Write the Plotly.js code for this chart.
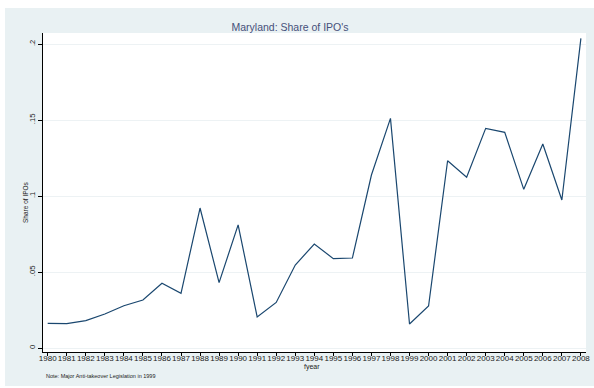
<!DOCTYPE html>
<html>
<head>
<meta charset="utf-8">
<script src="https://cdn.plot.ly/plotly-3.0.1.min.js"></script>
<style>
  html, body { margin: 0; padding: 0; background: #ffffff; }
  #chart { width: 594px; height: 388px; }
</style>
</head>
<body>
<div id="chart"></div>
<script>
// Fiscal years and Maryland's share of IPOs in each year
var years = [1980, 1981, 1982, 1983, 1984, 1985, 1986, 1987, 1988, 1989,
             1990, 1991, 1992, 1993, 1994, 1995, 1996, 1997, 1998, 1999,
             2000, 2001, 2002, 2003, 2004, 2005, 2006, 2007, 2008];
var ipoShare = [0.0162, 0.0160, 0.0180, 0.0224, 0.0278, 0.0316, 0.0426, 0.0360, 0.0921, 0.0430,
                0.0810, 0.0204, 0.0300, 0.0546, 0.0684, 0.0588, 0.0592, 0.1138, 0.1511, 0.0158,
                0.0276, 0.1232, 0.1123, 0.1445, 0.1419, 0.1044, 0.1342, 0.0974, 0.2037];

// Y tick positions and their labels (leading-dot style)
var yTickVals = [0, 0.05, 0.1, 0.15, 0.2];
var yTickText = ['0', '.05', '.1', '.15', '.2'];

var panelColor = '#e9f1f3';
var gridColor = '#edf2f4';
var lineColor = '#1a476f';
var fontFamily = 'Liberation Sans, Arial, sans-serif';

var trace = {
  x: years,
  y: ipoShare,
  type: 'scatter',
  mode: 'lines',
  line: { color: lineColor, width: 1.2 },
  hoverinfo: 'x+y'
};

var layout = {
  width: 594,
  height: 388,
  margin: { l: 43, r: 8, t: 33, b: 36 },
  paper_bgcolor: '#ffffff',
  plot_bgcolor: '#ffffff',
  showlegend: false,
  font: { family: fontFamily, color: '#222222' },
  title: {
    text: "Maryland: Share of IPO's",
    font: { family: fontFamily, size: 10.5, color: '#45507a' },
    x: 290 / 594,
    xanchor: 'center',
    xref: 'container',
    y: 1 - 27 / 388,
    yanchor: 'middle',
    yref: 'container'
  },
  xaxis: {
    range: [1979.753, 2008.268],
    tickmode: 'array',
    tickvals: years,
    ticktext: years.map(String),
    tickangle: 0,
    ticks: 'outside',
    ticklen: 3,
    tickwidth: 1,
    tickcolor: '#000000',
    ticklabelstandoff: -5,
    showline: true,
    linecolor: '#000000',
    linewidth: 1,
    showgrid: false,
    zeroline: false,
    tickfont: { family: fontFamily, size: 8, color: '#222222' }
  },
  yaxis: {
    range: [-0.00263, 0.20724],
    tickmode: 'array',
    tickvals: yTickVals,
    ticktext: yTickText,
    tickangle: -90,
    ticks: 'outside',
    ticklen: 4,
    tickwidth: 1,
    tickcolor: '#000000',
    showline: true,
    linecolor: '#000000',
    linewidth: 1,
    showgrid: true,
    gridcolor: gridColor,
    gridwidth: 1,
    zeroline: false,
    tickfont: { family: fontFamily, size: 7.6, color: '#222222' }
  },
  shapes: [
    // light bluish outer graph region
    {
      type: 'rect', xref: 'paper', yref: 'paper', layer: 'below',
      x0: (5 - 43) / 543, x1: (594 - 43) / 543,
      y0: (352 - 386) / 319, y1: (352 - 8) / 319,
      fillcolor: panelColor, line: { width: 0 }
    },
    // white plotting region
    {
      type: 'rect', xref: 'paper', yref: 'paper', layer: 'below',
      x0: 0, x1: 1, y0: 0, y1: 1,
      fillcolor: '#ffffff', line: { width: 0 }
    }
  ],
  annotations: [
    {
      text: 'Share of IPOs',
      textangle: -90,
      xref: 'paper', yref: 'paper',
      x: (25 - 43) / 543, y: (352 - 202) / 319,
      xanchor: 'center', yanchor: 'middle',
      showarrow: false,
      font: { family: fontFamily, size: 6.5, color: '#222222' }
    },
    {
      text: 'fyear',
      xref: 'paper', yref: 'paper',
      x: (312 - 43) / 543, y: (352 - 367) / 319,
      xanchor: 'center', yanchor: 'middle',
      showarrow: false,
      font: { family: fontFamily, size: 7, color: '#222222' }
    },
    {
      text: 'Note: Major Anti-takeover Legislation in 1999',
      xref: 'paper', yref: 'paper',
      x: (44 - 43) / 543, y: (352 - 375.5) / 319,
      xanchor: 'left', yanchor: 'middle',
      showarrow: false,
      font: { family: fontFamily, size: 5.5, color: '#222222' }
    }
  ]
};

Plotly.newPlot('chart', [trace], layout, { staticPlot: true, displayModeBar: false });
</script>
</body>
</html>
